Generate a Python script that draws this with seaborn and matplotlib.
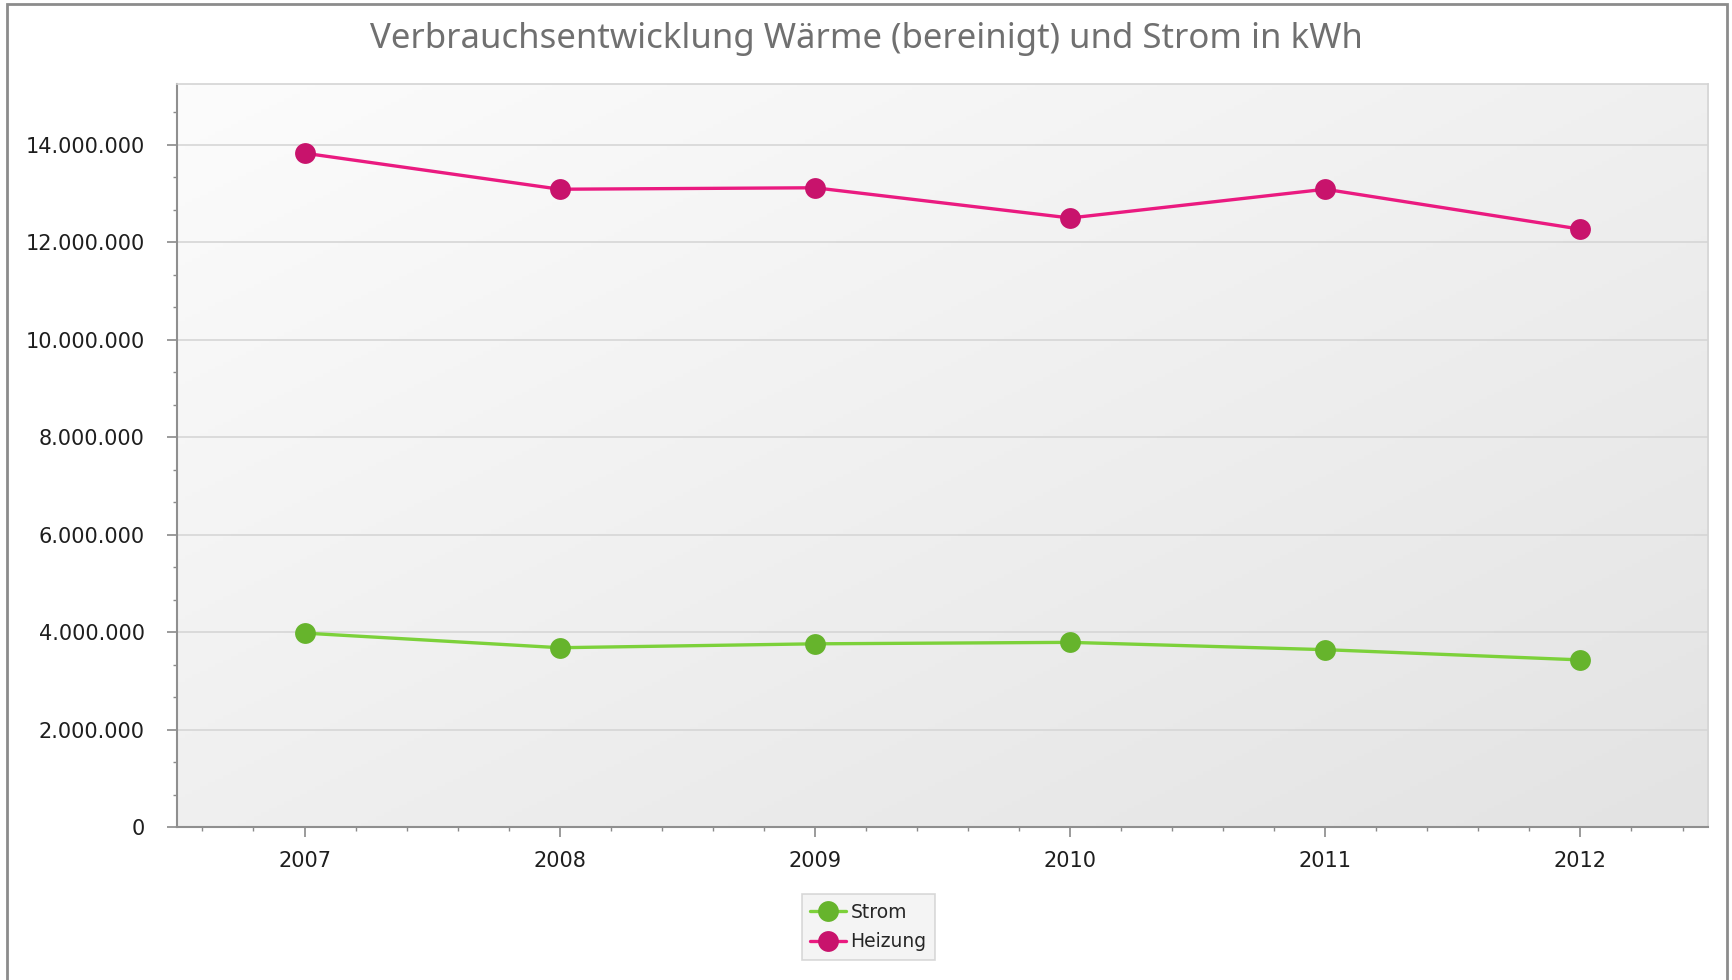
import matplotlib
matplotlib.use("Agg")
import matplotlib.pyplot as plt
import seaborn as sns
import numpy as np
import pandas as pd
from matplotlib.ticker import MultipleLocator, FuncFormatter
from matplotlib.patches import Rectangle

# data (kWh)
years = [2007, 2008, 2009, 2010, 2011, 2012]
strom = [3980000, 3680000, 3760000, 3790000, 3640000, 3430000]
heizung = [13830000, 13090000, 13120000, 12500000, 13090000, 12270000]
series_names = ["Strom", "Heizung"]
title = "Verbrauchsentwicklung Wärme (bereinigt) und Strom in kWh"

line_colors = {"Strom": "#7cd13a", "Heizung": "#ea1a80"}
marker_colors = {"Strom": "#66b42c", "Heizung": "#c8136c"}

df = pd.DataFrame({"Jahr": years * 2,
                   "kWh": strom + heizung,
                   "Serie": ["Strom"] * len(years) + ["Heizung"] * len(years)})

sns.set_style("white")
plt.rcParams["font.family"] = ["DejaVu Sans"]

fig = plt.figure(figsize=(17.33, 9.8), dpi=100)
ax = fig.add_axes([0.1021, 0.1561, 0.8835, 0.7582])

# soft diagonal gradient: light top-left, darker bottom-right
gx, gy = np.meshgrid(np.linspace(0, 1, 200), np.linspace(0, 1, 200))
grad = (gx + gy) / 2
ax.imshow(grad, extent=(0, 1, 0, 1), transform=ax.transAxes, aspect="auto",
          cmap=matplotlib.colors.LinearSegmentedColormap.from_list("bg", ["#fcfcfc", "#e3e3e3"]),
          zorder=0)

for name in series_names:
    sub = df[df["Serie"] == name]
    sns.lineplot(data=sub, x="Jahr", y="kWh", ax=ax, color=line_colors[name],
                 linewidth=2.4, marker="o", markersize=15,
                 markerfacecolor=marker_colors[name], markeredgecolor=marker_colors[name],
                 markeredgewidth=0, label=name, zorder=3)

ax.set_xlim(2006.5, 2012.5)
ax.set_ylim(0, 15250000)
ax.xaxis.set_major_locator(MultipleLocator(1))
ax.xaxis.set_minor_locator(MultipleLocator(0.2))
ax.yaxis.set_major_locator(MultipleLocator(2000000))
ax.yaxis.set_minor_locator(MultipleLocator(2000000 / 3))
ax.yaxis.set_major_formatter(FuncFormatter(lambda v, p: f"{int(round(v)):,}".replace(",", ".")))
ax.xaxis.set_major_formatter(FuncFormatter(lambda v, p: f"{int(round(v))}"))
ax.set_xlabel("")
ax.set_ylabel("")

ax.set_axisbelow(True)
ax.grid(axis="y", which="major", color="#d6d6d6", linewidth=1.2)
ax.grid(axis="x", visible=False)

ax.tick_params(axis="both", which="major", direction="out", length=7, width=1.2,
               color="#8a8a8a", labelsize=15, labelcolor="#1e1e1e")
ax.tick_params(axis="y", which="major", pad=16)
ax.tick_params(axis="x", which="major", pad=10.5)
ax.tick_params(axis="both", which="minor", direction="out", length=3, width=1,
               color="#8a8a8a")
ax.tick_params(axis="x", which="both", bottom=True)
ax.tick_params(axis="y", which="both", left=True)

for side in ["left", "bottom"]:
    ax.spines[side].set_color("#8f8f8f")
    ax.spines[side].set_linewidth(1.5)
for side in ["top", "right"]:
    ax.spines[side].set_color("#d4d4d4")
    ax.spines[side].set_linewidth(1.2)

leg = ax.legend(loc="center", bbox_to_anchor=(0.501, 0.054), bbox_transform=fig.transFigure,
                fontsize=13.5, frameon=True, fancybox=False, handlelength=1.9,
                handletextpad=0.25, borderpad=0.45, labelspacing=0.55, markerscale=1.0,
                borderaxespad=0)
leg.get_frame().set_facecolor("#f2f2f2")
leg.get_frame().set_edgecolor("#cfcfcf")
leg.get_frame().set_linewidth(1.2)

fig.text(0.5, 0.960, title, ha="center", va="center", fontsize=25,
         color="#707070", family=["Noto Sans", "DejaVu Sans"])

# outer frame of the chart control
fig.patches.append(Rectangle((0.004, -0.05), 0.9925, 1.046, transform=fig.transFigure,
                             fill=False, edgecolor="#8c8c8c", linewidth=2))

fig.savefig("out.png", dpi=100)
plt.close(fig)
